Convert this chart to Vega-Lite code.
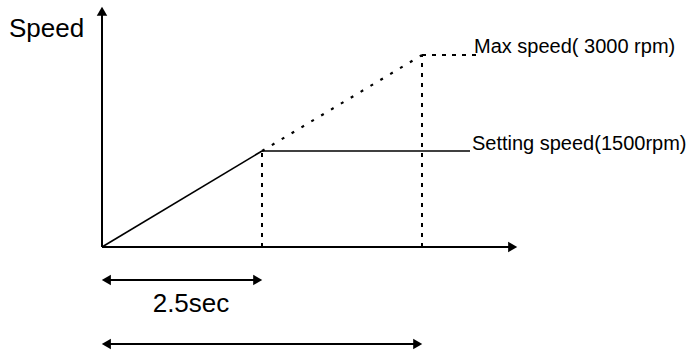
{
  "$schema": "https://vega.github.io/schema/vega-lite/v6.json",
  "width": 695,
  "height": 353,
  "autosize": {"type": "none"},
  "padding": 0,
  "background": "white",
  "config": {"view": {"stroke": null}, "font": "Liberation Sans"},
  "datasets": {
    "axes": [
      {"x": 0, "y": 0, "x2": 0, "y2": 3683},
      {"x": 0, "y": 0, "x2": 6.42, "y2": 0}
    ],
    "solid": [
      {"x": 0, "y": 0, "x2": 2.5, "y2": 1500},
      {"x": 2.5, "y": 1500, "x2": 5.75, "y2": 1500}
    ],
    "diag": [
      {"x": 2.5, "y": 1500, "x2": 5, "y2": 3000}
    ],
    "dashed": [
      {"x": 5, "y": 3000, "x2": 5.875, "y2": 3000},
      {"x": 2.5, "y": 0, "x2": 2.5, "y2": 1500},
      {"x": 5, "y": 0, "x2": 5, "y2": 3000}
    ],
    "spans": [
      {"x": 0.05, "y": -515, "x2": 2.45, "y2": -515},
      {"x": 0.05, "y": -1516, "x2": 4.95, "y2": -1516}
    ],
    "heads": [
      {"x": 0, "y": 3683, "dir": "up"},
      {"x": 6.417, "y": 0, "dir": "right"},
      {"x": 0.068, "y": -515, "dir": "left"},
      {"x": 0.068, "y": -1516, "dir": "left"},
      {"x": 2.433, "y": -515, "dir": "right"},
      {"x": 4.933, "y": -1516, "dir": "right"}
    ],
    "bigtext": [
      {"x": -1.453, "y": 3281, "label": "Speed"},
      {"x": 0.792, "y": -1011, "label": "2.5sec"}
    ],
    "smalltext": [
      {"x": 5.8125, "y": 3031, "label": "Max speed( 3000 rpm)"},
      {"x": 5.78, "y": 1516, "label": "Setting speed(1500rpm)"}
    ]
  },
  "encoding": {
    "x": {"field": "x", "type": "quantitative", "scale": {"domain": [-1.59375, 9.265625], "nice": false, "zero": false}, "axis": null},
    "y": {"field": "y", "type": "quantitative", "scale": {"domain": [-1656.25, 3859.375], "nice": false, "zero": false}, "axis": null}
  },
  "layer": [
    {
      "data": {"name": "axes"},
      "mark": {"type": "rule", "color": "black", "strokeWidth": 2},
      "encoding": {"x2": {"field": "x2"}, "y2": {"field": "y2"}}
    },
    {
      "data": {"name": "solid"},
      "mark": {"type": "rule", "color": "black", "strokeWidth": 1.6},
      "encoding": {"x2": {"field": "x2"}, "y2": {"field": "y2"}}
    },
    {
      "data": {"name": "diag"},
      "mark": {"type": "rule", "color": "black", "strokeWidth": 2.2, "strokeDash": [3, 8.5]},
      "encoding": {"x2": {"field": "x2"}, "y2": {"field": "y2"}}
    },
    {
      "data": {"name": "dashed"},
      "mark": {"type": "rule", "color": "black", "strokeWidth": 2, "strokeDash": [4, 6]},
      "encoding": {"x2": {"field": "x2"}, "y2": {"field": "y2"}}
    },
    {
      "data": {"name": "spans"},
      "mark": {"type": "rule", "color": "black", "strokeWidth": 2},
      "encoding": {"x2": {"field": "x2"}, "y2": {"field": "y2"}}
    },
    {
      "data": {"name": "heads"},
      "transform": [{"filter": "datum.dir === 'up'"}],
      "mark": {"type": "point", "shape": "triangle-up", "filled": true, "color": "black", "size": 110, "opacity": 1}
    },
    {
      "data": {"name": "heads"},
      "transform": [{"filter": "datum.dir === 'right'"}],
      "mark": {"type": "point", "shape": "triangle-right", "filled": true, "color": "black", "size": 110, "opacity": 1}
    },
    {
      "data": {"name": "heads"},
      "transform": [{"filter": "datum.dir === 'left'"}],
      "mark": {"type": "point", "shape": "triangle-left", "filled": true, "color": "black", "size": 110, "opacity": 1}
    },
    {
      "data": {"name": "bigtext"},
      "mark": {"type": "text", "align": "left", "baseline": "alphabetic", "fontSize": 26, "color": "black", "font": "Liberation Sans"},
      "encoding": {"text": {"field": "label"}}
    },
    {
      "data": {"name": "smalltext"},
      "mark": {"type": "text", "align": "left", "baseline": "alphabetic", "fontSize": 20, "color": "black", "font": "Liberation Sans"},
      "encoding": {"text": {"field": "label"}}
    }
  ]
}
